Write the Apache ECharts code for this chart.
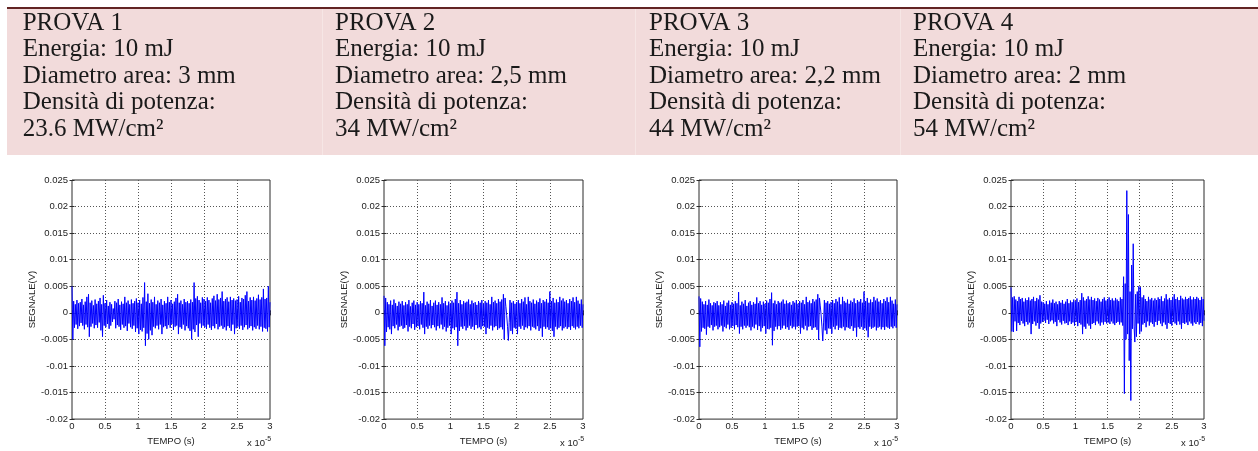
<!DOCTYPE html>
<html>
<head>
<meta charset="utf-8">
<script src="https://cdn.jsdelivr.net/npm/echarts@6/dist/echarts.min.js"></script>
<style>
html,body{margin:0;padding:0;background:#fff}
#grafico{width:1258px;height:451px}
</style>
</head>
<body>
<div id="grafico"></div>
<script>
// Intestazioni delle quattro prove
const titoli = ['PROVA 1', 'PROVA 2', 'PROVA 3', 'PROVA 4'];
const energie = ['Energia: 10 mJ', 'Energia: 10 mJ', 'Energia: 10 mJ', 'Energia: 10 mJ'];
const diametri = ['Diametro area: 3 mm', 'Diametro area: 2,5 mm', 'Diametro area: 2,2 mm', 'Diametro area: 2 mm'];
const voceDensita = 'Densità di potenza:';
const densita = ['23.6 MW/cm²', '34 MW/cm²', '44 MW/cm²', '54 MW/cm²'];

// Assi: tempo in unità di 10^-5 s, segnale in mV (etichette in V)
const tempoMin = 0, tempoMax = 3, tempoPasso = 0.5;
const segnaleMin = -20, segnaleMax = 25, segnalePasso = 5;
const nomeTempo = 'TEMPO (s)';
const nomeSegnale = 'SEGNALE(V)';
const moltiplicatore = ['x 10', '-5'];

// Intervallo di campionamento (unità di 10^-5 s)
const passoCampione = 0.0125;

// Segnali acquisiti, mV
const segnale1 = [
  5.0,-5.0,2.2,-2.8,1.6,-2.2,2.4,-3.0,1.8,-2.5,2.0,-1.9,2.6,-2.4,1.5,-3.1,2.1,-2.2,3.0,-2.7,
  3.5,-4.5,1.9,-2.6,2.3,-2.0,1.4,-2.9,2.5,-2.3,1.7,-2.8,2.2,-1.8,2.8,-3.3,1.6,-4.5,3.3,-2.4,
  1.8,-2.7,2.4,-2.1,1.3,-3.0,2.0,-2.4,1.6,-1.7,0.8,-1.2,2.2,-2.9,1.9,-2.3,2.6,-2.6,1.5,-3.2,
  2.1,-2.2,1.7,-2.8,3.0,-2.5,1.9,-3.4,2.3,-2.0,1.6,-2.7,2.5,-3.0,1.8,-2.4,2.2,-3.6,2.7,-2.9,
  1.9,-4.0,2.4,-3.2,1.7,-3.5,2.9,-2.8,5.7,-6.2,2.1,-3.9,3.6,-5.0,1.8,-3.3,2.5,-4.2,2.0,-2.6,
  3.0,-2.9,1.6,-2.4,2.3,-3.1,1.9,-2.2,2.6,-4.0,1.5,-2.7,2.2,-2.5,1.8,-3.0,3.0,-2.3,2.0,-2.8,
  2.4,-2.1,1.7,-3.2,2.1,-2.6,2.8,-2.4,3.5,-4.0,1.9,-2.7,2.3,-3.0,1.6,-2.2,2.6,-3.3,2.0,-2.5,
  2.2,-2.9,1.8,-3.4,2.5,-5.0,2.0,-3.1,5.7,-3.6,2.7,-2.3,3.1,-4.5,2.4,-2.0,1.9,-2.8,2.9,-2.4,
  2.6,-2.7,2.2,-3.0,2.9,-2.2,2.4,-2.8,1.9,-3.2,2.7,-2.5,3.2,-2.9,2.3,-2.1,3.5,-3.1,2.5,-2.6,
  2.8,-2.4,4.0,-3.0,2.2,-2.7,2.6,-3.3,2.9,-2.5,2.1,-2.8,3.0,-3.4,2.4,-2.2,2.7,-4.0,2.3,-2.9,
  2.5,-2.6,3.1,-3.0,2.0,-2.4,2.8,-3.2,2.6,-2.7,3.3,-2.3,4.0,-3.1,2.2,-2.8,2.9,-2.5,2.4,-3.3,
  3.0,-2.7,2.3,-3.0,2.7,-2.4,3.4,-3.1,2.5,-2.6,2.9,-3.5,4.5,-2.8,2.6,-3.0,2.8,-3.5,5.0,-2.7,
  2.0
];
const segnale2 = [
  3.2,-6.2,2.8,-3.6,2.0,-2.7,1.6,-3.1,2.3,-4.0,1.5,-2.5,2.5,-2.9,1.8,-2.2,1.3,-3.3,2.1,-2.6,
  1.7,-2.4,2.2,-3.0,1.4,-2.8,2.0,-2.3,1.6,-3.5,2.4,-2.6,1.2,-2.9,1.9,-2.1,2.3,-3.2,1.5,-2.7,
  2.0,-2.5,1.6,-3.1,2.2,-2.2,1.8,-2.8,3.9,-4.0,1.4,-2.6,2.1,-3.0,1.7,-2.4,2.4,-2.9,1.3,-2.3,
  1.9,-2.7,2.3,-3.3,1.5,-2.5,2.0,-2.9,1.6,-2.2,2.9,-3.1,1.8,-2.6,2.2,-3.5,1.4,-2.8,2.1,-2.4,
  1.7,-4.0,2.3,-2.9,1.9,-3.2,2.6,-2.7,3.9,-6.2,1.8,-3.4,2.4,-2.6,1.6,-3.0,2.2,-2.5,1.9,-3.3,
  2.1,-2.8,2.5,-2.4,1.6,-3.0,2.3,-2.6,1.8,-3.2,2.0,-2.3,1.5,-2.9,2.2,-2.7,1.9,-3.1,2.4,-2.5,
  1.7,-2.6,2.2,-4.0,1.9,-2.8,2.4,-3.0,1.6,-2.4,3.0,-3.3,2.0,-2.7,2.3,-2.5,1.8,-3.2,2.6,-2.9,
  2.1,-2.7,2.5,-3.1,3.5,-5.0,2.8,1.2,-0.5,-2.6,-5.2,-1.8,2.4,-3.4,1.9,-4.0,2.2,-2.8,1.7,-3.0,
  2.0,-4.0,2.4,-2.6,1.8,-3.0,2.6,-2.4,2.1,-3.2,2.9,-2.7,1.6,-2.9,3.0,-2.5,2.2,-3.3,1.9,-2.6,
  2.5,-2.8,1.7,-3.1,2.3,-2.5,2.0,-3.4,2.7,-2.9,1.8,-4.5,2.4,-2.6,2.1,-3.0,2.6,-2.7,1.9,-3.2,
  4.0,-2.9,2.2,-3.4,2.8,-4.5,1.9,-2.6,2.5,-3.1,2.0,-2.8,3.0,-2.5,2.3,-3.3,2.7,-2.9,2.1,-2.6,
  2.4,-3.0,1.8,-2.7,2.6,-3.2,2.2,-2.5,2.9,-2.8,2.0,-3.1,3.0,-2.6,2.3,-2.9,1.7,-2.4,2.5,-2.8,
  1.6
];
const segnale3 = [
  3.1,-6.4,2.7,-3.5,2.1,-2.8,1.6,-3.0,2.2,-4.1,1.5,-2.6,2.5,-2.8,1.8,-2.3,1.4,-3.3,2.0,-2.6,
  1.8,-2.4,2.2,-3.1,1.4,-2.7,2.0,-2.4,1.6,-3.5,2.3,-2.6,1.3,-2.9,1.9,-2.2,2.3,-3.1,1.5,-2.8,
  2.0,-2.5,1.7,-3.1,2.2,-2.3,1.8,-2.7,3.9,-3.9,1.4,-2.6,2.1,-3.1,1.7,-2.4,2.4,-2.8,1.3,-2.4,
  1.9,-2.7,2.2,-3.3,1.5,-2.6,2.0,-2.9,1.7,-2.2,2.9,-3.2,1.8,-2.5,2.2,-3.5,1.5,-2.8,2.1,-2.5,
  1.7,-3.9,2.3,-3.0,1.9,-3.1,2.6,-2.8,3.8,-6.1,1.8,-3.4,2.3,-2.6,1.6,-3.1,2.2,-2.5,1.9,-3.2,
  2.1,-2.9,2.5,-2.4,1.7,-3.0,2.3,-2.7,1.8,-3.2,2.0,-2.4,1.5,-2.9,2.2,-2.6,1.9,-3.1,2.4,-2.6,
  1.7,-2.5,2.2,-3.9,1.9,-2.8,2.4,-3.1,1.6,-2.4,3.0,-3.3,2.0,-2.6,2.3,-2.5,1.8,-3.2,2.6,-2.8,
  2.1,-2.7,2.5,-3.2,3.5,-5.1,2.8,1.3,-0.4,-2.5,-5.3,-1.9,2.4,-3.3,1.9,-4.0,2.2,-2.9,1.7,-3.0,
  2.0,-3.9,2.4,-2.6,1.8,-3.1,2.6,-2.4,2.1,-3.2,2.9,-2.8,1.6,-2.9,3.0,-2.6,2.2,-3.3,1.9,-2.7,
  2.5,-2.8,1.7,-3.0,2.3,-2.5,2.0,-3.4,2.7,-2.8,1.8,-4.5,2.4,-2.7,2.1,-3.0,2.6,-2.6,1.9,-3.2,
  4.0,-2.9,2.2,-3.3,2.8,-4.6,1.9,-2.6,2.5,-3.0,2.0,-2.8,3.0,-2.6,2.3,-3.3,2.7,-2.8,2.1,-2.6,
  2.4,-3.1,1.8,-2.7,2.6,-3.2,2.2,-2.6,2.9,-2.8,2.0,-3.0,3.0,-2.6,2.3,-2.9,1.7,-2.5,2.5,-2.8,
  1.6
];
const segnale4 = [
  4.8,-3.5,2.9,-3.6,3.1,-1.6,2.5,-3.4,2.2,-1.9,3.0,-2.3,2.6,-1.5,2.8,-2.0,2.1,-2.5,2.7,-1.7,
  2.4,-2.2,2.9,-1.8,2.3,-4.0,2.6,-2.1,3.0,-1.6,2.2,-2.4,2.8,-1.9,2.5,-3.0,3.3,-2.0,2.1,-1.7,
  2.0,-1.5,1.7,-1.9,2.2,-1.3,1.6,-2.1,2.3,-1.6,1.9,-1.4,2.5,-2.0,1.8,-1.7,2.1,-2.5,1.6,-1.3,
  2.2,-1.8,1.9,-2.2,2.4,-1.5,1.7,-2.0,2.1,-1.9,2.6,-2.3,1.8,-1.6,2.3,-2.1,2.0,-1.8,2.5,-2.4,
  2.2,-1.7,2.7,-2.5,2.0,-1.9,2.4,-2.2,3.7,-4.0,2.9,-2.6,2.3,-3.0,2.6,-2.0,3.1,-2.4,2.5,-3.0,
  3.0,-2.1,2.4,-1.9,2.7,-2.3,2.2,-1.6,2.8,-2.0,2.5,-2.4,2.1,-1.8,2.6,-2.2,2.9,-1.7,2.3,-2.0,
  2.6,-1.8,2.9,-2.1,2.4,-1.6,2.7,-2.0,2.3,-2.3,2.8,-1.9,2.5,-1.7,2.2,-2.2,2.9,-1.8,2.6,-2.4,
  6.8,-15.2,5.5,-5.0,23.0,-4.0,18.5,-9.0,4.0,-16.5,9.0,-3.0,13.0,-2.5,-5.5,3.5,-4.5,4.0,-2.0,5.0,
  -4.0,4.8,-3.5,2.9,-2.2,3.3,-1.9,2.6,-2.7,2.2,-1.6,3.0,-2.4,2.5,-1.8,2.8,-2.1,2.3,-2.6,2.7,
  -1.7,2.4,-2.3,2.9,-1.5,2.6,-2.0,3.1,-2.5,2.2,-1.8,2.7,-2.2,3.5,-3.0,2.5,-1.9,2.8,-2.1,2.4,
  -2.4,3.0,-1.7,3.5,-2.0,2.6,-2.3,2.9,-1.6,2.4,-2.2,3.2,-3.0,2.7,-1.9,2.5,-2.1,3.0,-1.8,2.6,
  -2.3,2.8,-1.6,3.1,-2.0,2.5,-2.4,2.9,-1.8,2.6,-2.1,3.0,-1.7,2.7,-2.2,2.4,-1.9,3.0,-2.5,2.6,
  -1.5
];
const segnali = [segnale1, segnale2, segnale3, segnale4];

// Impaginazione dei quattro riquadri
const riquadri = [
  { left: 72, width: 198, gapNome: 33 },
  { left: 384, width: 199, gapNome: 32 },
  { left: 699, width: 198, gapNome: 34 },
  { left: 1011, width: 193, gapNome: 32 }
];
const grigliaTop = 180, grigliaAlt = 240;
const colonneTesto = [22.7, 335, 649, 913];
const righeTesto = [31.5, 58, 84.5, 111, 137.5];

const fontAssi = '"Liberation Sans", Arial, sans-serif';
const fontTesto = '"Liberation Serif", "Times New Roman", serif';
const coloreTesto = '#1a1a1a';
const coloreAssi = '#222';

const grid = [], xAxis = [], yAxis = [], series = [], graphic = [];

// Fascia d'intestazione
graphic.push({ type: 'rect', shape: { x: 7, y: 9, width: 1251, height: 146 }, style: { fill: '#f2dbdb' }, silent: true });
graphic.push({ type: 'rect', shape: { x: 7, y: 7, width: 1251, height: 2 }, style: { fill: '#622423' }, silent: true });
[322, 635, 900].forEach(x => {
  graphic.push({ type: 'rect', shape: { x: x, y: 9, width: 1, height: 146 }, style: { fill: '#f6e6e5' }, silent: true });
});

riquadri.forEach((r, k) => {
  const righe = [titoli[k], energie[k], diametri[k], voceDensita, densita[k]];
  righe.forEach((testo, j) => {
    graphic.push({
      type: 'text', x: colonneTesto[k], y: righeTesto[j] - 8.4, silent: true,
      style: { text: testo, font: '25px ' + fontTesto, fill: coloreTesto, align: 'left', verticalAlign: 'middle' }
    });
  });

  grid.push({ left: r.left, top: grigliaTop, width: r.width, height: grigliaAlt, show: true, borderColor: '#2b2b2b', borderWidth: 1, backgroundColor: '#fff' });

  const tick = { show: true, inside: true, length: 2.5, lineStyle: { color: '#2b2b2b', width: 1 } };
  const griglia = { show: true, showMinLine: false, showMaxLine: false, lineStyle: { color: '#555', width: 1, type: [1, 2] } };

  xAxis.push({
    type: 'value', gridIndex: k, min: tempoMin, max: tempoMax, interval: tempoPasso, position: 'bottom',
    axisLine: { show: false }, axisTick: tick, splitLine: griglia,
    axisLabel: { fontFamily: fontAssi, fontSize: 9.5, color: coloreAssi, margin: 2, formatter: v => String(v) },
    name: nomeTempo, nameLocation: 'middle', nameGap: 16,
    nameTextStyle: { fontFamily: fontAssi, fontSize: 9.5, color: coloreAssi }
  });
  xAxis.push({
    type: 'value', gridIndex: k, min: tempoMin, max: tempoMax, interval: tempoPasso, position: 'top',
    axisLine: { show: false }, axisTick: tick, splitLine: { show: false }, axisLabel: { show: false }
  });
  yAxis.push({
    type: 'value', gridIndex: k, min: segnaleMin, max: segnaleMax, interval: segnalePasso, position: 'left',
    axisLine: { show: false }, axisTick: tick, splitLine: griglia,
    axisLabel: { fontFamily: fontAssi, fontSize: 9.5, color: coloreAssi, margin: 4, formatter: v => v === 0 ? '0' : String(v / 1000) },
    name: nomeSegnale, nameLocation: 'middle', nameGap: r.gapNome, nameRotate: 90,
    nameTextStyle: { fontFamily: fontAssi, fontSize: 9.5, color: coloreAssi }
  });
  yAxis.push({
    type: 'value', gridIndex: k, min: segnaleMin, max: segnaleMax, interval: segnalePasso, position: 'right',
    axisLine: { show: false }, axisTick: tick, splitLine: { show: false }, axisLabel: { show: false }
  });

  series.push({
    type: 'line', xAxisIndex: 2 * k, yAxisIndex: 2 * k,
    data: segnali[k].map((v, i) => [i * passoCampione, v]),
    showSymbol: false, symbol: 'none', sampling: undefined, silent: true,
    lineStyle: { color: '#0000ff', width: 1 }, clip: true
  });

  const destra = r.left + r.width;
  graphic.push({
    type: 'text', x: destra - 23, y: 443.5, silent: true,
    style: { text: moltiplicatore[0], font: '9.5px ' + fontAssi, fill: coloreAssi, align: 'left', verticalAlign: 'middle' }
  });
  graphic.push({
    type: 'text', x: destra - 5, y: 439, silent: true,
    style: { text: moltiplicatore[1], font: '7px ' + fontAssi, fill: coloreAssi, align: 'left', verticalAlign: 'middle' }
  });
});

const grafico = echarts.init(document.getElementById('grafico'), null, { renderer: 'canvas' });
grafico.setOption({ animation: false, backgroundColor: '#fff', grid, xAxis, yAxis, series, graphic });
</script>
</body>
</html>
